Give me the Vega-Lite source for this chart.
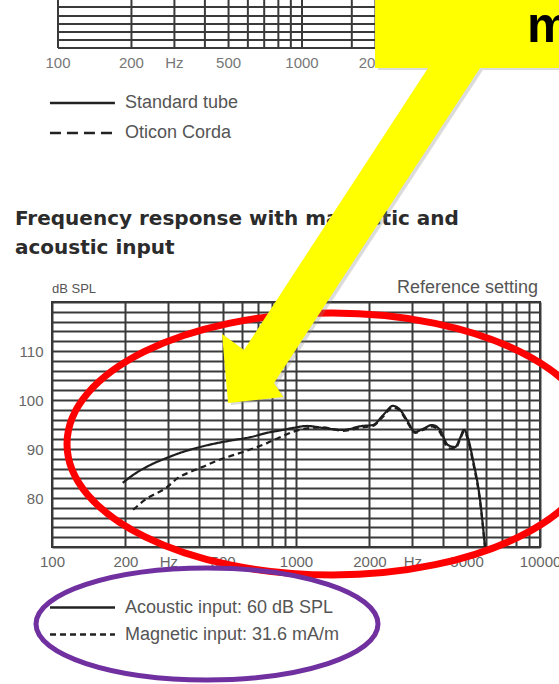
{
  "$schema": "https://vega.github.io/schema/vega-lite/v6.json",
  "width": 488,
  "height": 245,
  "autosize": {"type": "none"},
  "padding": {"left": 52, "top": 302, "right": 19, "bottom": 137},
  "background": "white",
  "config": {"view": {"stroke": "#333", "strokeWidth": 2}, "font": "Liberation Sans"},
  "data": {"values": [{}]},
  "datasets": {
    "response": [
      {"freq": 195, "spl": 83.1, "input": "Acoustic input: 60 dB SPL"},
      {"freq": 215, "spl": 84.7, "input": "Acoustic input: 60 dB SPL"},
      {"freq": 252, "spl": 86.7, "input": "Acoustic input: 60 dB SPL"},
      {"freq": 296, "spl": 88.2, "input": "Acoustic input: 60 dB SPL"},
      {"freq": 344, "spl": 89.4, "input": "Acoustic input: 60 dB SPL"},
      {"freq": 404, "spl": 90.4, "input": "Acoustic input: 60 dB SPL"},
      {"freq": 474, "spl": 91.2, "input": "Acoustic input: 60 dB SPL"},
      {"freq": 552, "spl": 91.8, "input": "Acoustic input: 60 dB SPL"},
      {"freq": 648, "spl": 92.4, "input": "Acoustic input: 60 dB SPL"},
      {"freq": 761, "spl": 93.3, "input": "Acoustic input: 60 dB SPL"},
      {"freq": 885, "spl": 93.9, "input": "Acoustic input: 60 dB SPL"},
      {"freq": 972, "spl": 94.3, "input": "Acoustic input: 60 dB SPL"},
      {"freq": 1110, "spl": 94.7, "input": "Acoustic input: 60 dB SPL"},
      {"freq": 1291, "spl": 94.3, "input": "Acoustic input: 60 dB SPL"},
      {"freq": 1558, "spl": 93.9, "input": "Acoustic input: 60 dB SPL"},
      {"freq": 1865, "spl": 94.7, "input": "Acoustic input: 60 dB SPL"},
      {"freq": 2068, "spl": 94.9, "input": "Acoustic input: 60 dB SPL"},
      {"freq": 2273, "spl": 96.9, "input": "Acoustic input: 60 dB SPL"},
      {"freq": 2498, "spl": 98.8, "input": "Acoustic input: 60 dB SPL"},
      {"freq": 2669, "spl": 98.0, "input": "Acoustic input: 60 dB SPL"},
      {"freq": 2851, "spl": 95.9, "input": "Acoustic input: 60 dB SPL"},
      {"freq": 3074, "spl": 93.5, "input": "Acoustic input: 60 dB SPL"},
      {"freq": 3313, "spl": 94.1, "input": "Acoustic input: 60 dB SPL"},
      {"freq": 3610, "spl": 94.9, "input": "Acoustic input: 60 dB SPL"},
      {"freq": 3890, "spl": 93.9, "input": "Acoustic input: 60 dB SPL"},
      {"freq": 4198, "spl": 90.8, "input": "Acoustic input: 60 dB SPL"},
      {"freq": 4487, "spl": 90.4, "input": "Acoustic input: 60 dB SPL"},
      {"freq": 4700, "spl": 92.2, "input": "Acoustic input: 60 dB SPL"},
      {"freq": 4884, "spl": 93.9, "input": "Acoustic input: 60 dB SPL"},
      {"freq": 5070, "spl": 92.2, "input": "Acoustic input: 60 dB SPL"},
      {"freq": 5312, "spl": 87.8, "input": "Acoustic input: 60 dB SPL"},
      {"freq": 5680, "spl": 79.6, "input": "Acoustic input: 60 dB SPL"},
      {"freq": 5950, "spl": 70, "input": "Acoustic input: 60 dB SPL"},
      {"freq": 215, "spl": 77.6, "input": "Magnetic input: 31.6 mA/m"},
      {"freq": 240, "spl": 79.6, "input": "Magnetic input: 31.6 mA/m"},
      {"freq": 296, "spl": 82.2, "input": "Magnetic input: 31.6 mA/m"},
      {"freq": 328, "spl": 84.1, "input": "Magnetic input: 31.6 mA/m"},
      {"freq": 368, "spl": 85.3, "input": "Magnetic input: 31.6 mA/m"},
      {"freq": 412, "spl": 86.3, "input": "Magnetic input: 31.6 mA/m"},
      {"freq": 474, "spl": 87.6, "input": "Magnetic input: 31.6 mA/m"},
      {"freq": 527, "spl": 88.4, "input": "Magnetic input: 31.6 mA/m"},
      {"freq": 607, "spl": 89.4, "input": "Magnetic input: 31.6 mA/m"},
      {"freq": 692, "spl": 90.4, "input": "Magnetic input: 31.6 mA/m"},
      {"freq": 761, "spl": 91.2, "input": "Magnetic input: 31.6 mA/m"},
      {"freq": 860, "spl": 92.4, "input": "Magnetic input: 31.6 mA/m"},
      {"freq": 972, "spl": 93.5, "input": "Magnetic input: 31.6 mA/m"},
      {"freq": 1110, "spl": 94.2, "input": "Magnetic input: 31.6 mA/m"},
      {"freq": 1291, "spl": 94.4, "input": "Magnetic input: 31.6 mA/m"},
      {"freq": 1558, "spl": 93.7, "input": "Magnetic input: 31.6 mA/m"},
      {"freq": 1865, "spl": 94.4, "input": "Magnetic input: 31.6 mA/m"},
      {"freq": 2068, "spl": 94.7, "input": "Magnetic input: 31.6 mA/m"},
      {"freq": 2273, "spl": 96.6, "input": "Magnetic input: 31.6 mA/m"},
      {"freq": 2498, "spl": 98.5, "input": "Magnetic input: 31.6 mA/m"},
      {"freq": 2669, "spl": 97.8, "input": "Magnetic input: 31.6 mA/m"},
      {"freq": 2851, "spl": 95.6, "input": "Magnetic input: 31.6 mA/m"},
      {"freq": 3074, "spl": 93.3, "input": "Magnetic input: 31.6 mA/m"},
      {"freq": 3313, "spl": 93.9, "input": "Magnetic input: 31.6 mA/m"},
      {"freq": 3610, "spl": 94.6, "input": "Magnetic input: 31.6 mA/m"},
      {"freq": 3890, "spl": 93.4, "input": "Magnetic input: 31.6 mA/m"},
      {"freq": 4198, "spl": 90.2, "input": "Magnetic input: 31.6 mA/m"},
      {"freq": 4487, "spl": 90.0, "input": "Magnetic input: 31.6 mA/m"},
      {"freq": 4700, "spl": 91.9, "input": "Magnetic input: 31.6 mA/m"},
      {"freq": 4884, "spl": 93.6, "input": "Magnetic input: 31.6 mA/m"},
      {"freq": 5070, "spl": 91.8, "input": "Magnetic input: 31.6 mA/m"},
      {"freq": 5312, "spl": 87.3, "input": "Magnetic input: 31.6 mA/m"},
      {"freq": 5680, "spl": 79.3, "input": "Magnetic input: 31.6 mA/m"},
      {"freq": 5950, "spl": 70, "input": "Magnetic input: 31.6 mA/m"}
    ],
    "topGrid": [
      {"freq": 100}, {"freq": 200}, {"freq": 300}, {"freq": 400}, {"freq": 500},
      {"freq": 600}, {"freq": 700}, {"freq": 800}, {"freq": 900}, {"freq": 1000},
      {"freq": 1600}, {"freq": 2000}
    ],
    "topLevels": [
      {"level": 171.84}, {"level": 173.47}, {"level": 175.1},
      {"level": 176.73}, {"level": 178.37}, {"level": 180.2}
    ],
    "topTicks": [
      {"freq": 100, "label": "100"}, {"freq": 200, "label": "200"},
      {"freq": 300, "label": "Hz"}, {"freq": 500, "label": "500"},
      {"freq": 1000, "label": "1000"}, {"freq": 2000, "label": "2000"}
    ]
  },
  "layer": [
    {
      "data": {"name": "response"},
      "mark": {"type": "line", "interpolate": "monotone", "strokeWidth": 2.2, "color": "#1e1e1e"},
      "encoding": {
        "x": {
          "field": "freq", "type": "quantitative",
          "scale": {"type": "log", "domain": [100, 10000], "nice": false},
          "axis": {
            "title": null,
            "values": [100, 200, 300, 400, 500, 600, 700, 800, 900, 1000, 2000, 3000, 4000, 5000, 6000, 7000, 8000, 9000, 10000],
            "tickCount": 100,
            "format": "d",
            "labelExpr": "datum.value == 300 || datum.value == 3000 ? 'Hz' : (indexof([100, 200, 500, 1000, 2000, 5000, 10000], datum.value) >= 0 ? datum.label : '')",
            "grid": true, "gridColor": "#3a3a3a", "gridWidth": 2,
            "ticks": false, "domain": false,
            "labelFlush": false, "labelOverlap": false,
            "labelFont": "Liberation Sans", "labelFontSize": 15, "labelColor": "#666", "labelPadding": 7
          }
        },
        "y": {
          "field": "spl", "type": "quantitative",
          "scale": {"domain": [70, 120], "nice": false, "zero": false},
          "axis": {
            "title": null,
            "values": [70, 72, 74, 76, 78, 80, 82, 84, 86, 88, 90, 92, 94, 96, 98, 100, 102, 104, 106, 108, 110, 112, 114, 116, 118, 120],
            "tickCount": 100,
            "format": "d",
            "labelExpr": "datum.value % 10 == 0 && datum.value >= 80 && datum.value <= 110 ? datum.label : ''",
            "grid": true, "gridColor": "#3a3a3a", "gridWidth": 2,
            "ticks": false, "domain": false, "labelOverlap": false,
            "labelFont": "Liberation Sans", "labelFontSize": 15, "labelColor": "#666", "labelPadding": 9
          }
        },
        "strokeDash": {
          "field": "input", "type": "nominal",
          "scale": {"domain": ["Acoustic input: 60 dB SPL", "Magnetic input: 31.6 mA/m"], "range": [[1, 0], [6, 4]]},
          "legend": {
            "title": null, "orient": "none", "legendX": 18, "legendY": 293,
            "symbolType": "M -3 0 L 3 0", "symbolSize": 469, "symbolStrokeWidth": 2.5, "symbolStrokeColor": "#222",
            "labelFont": "Liberation Sans", "labelFontSize": 18, "labelColor": "#555", "labelOffset": 30, "labelLimit": 400, "rowPadding": 5
          }
        }
      }
    },
    {
      "data": {"name": "topGrid"},
      "mark": {"type": "rule", "color": "#3a3a3a", "strokeWidth": 2, "xOffset": 6},
      "encoding": {
        "x": {"field": "freq", "type": "quantitative"},
        "y": {"datum": 171.84},
        "y2": {"datum": 184}
      }
    },
    {
      "data": {"name": "topLevels"},
      "mark": {"type": "rule", "color": "#3a3a3a", "strokeWidth": 2, "xOffset": 6, "x2Offset": 6},
      "encoding": {
        "y": {"field": "level", "type": "quantitative"},
        "x": {"datum": 100},
        "x2": {"datum": 9000}
      }
    },
    {
      "data": {"name": "topTicks"},
      "mark": {"type": "text", "xOffset": 6, "font": "Liberation Sans", "fontSize": 15, "color": "#777", "baseline": "middle"},
      "encoding": {
        "x": {"field": "freq", "type": "quantitative"},
        "y": {"datum": 168.8},
        "text": {"field": "label"}
      }
    },
    {
      "mark": {"type": "rule", "color": "#222", "strokeWidth": 2.5},
      "encoding": {"x": {"datum": 98.1}, "x2": {"datum": 181.1}, "y": {"datum": 160.61}}
    },
    {
      "mark": {"type": "rule", "color": "#222", "strokeWidth": 2.5, "strokeDash": [11, 6]},
      "encoding": {"x": {"datum": 98.1}, "x2": {"datum": 181.1}, "y": {"datum": 154.49}}
    },
    {
      "mark": {"type": "text", "align": "left", "baseline": "middle", "font": "Liberation Sans", "fontSize": 18, "color": "#555"},
      "encoding": {"x": {"datum": 199.2}, "y": {"datum": 160.61}, "text": {"value": "Standard tube"}}
    },
    {
      "mark": {"type": "text", "align": "left", "baseline": "middle", "font": "Liberation Sans", "fontSize": 18, "color": "#555"},
      "encoding": {"x": {"datum": 199.2}, "y": {"datum": 154.49}, "text": {"value": "Oticon Corda"}}
    },
    {
      "mark": {"type": "text", "align": "left", "baseline": "alphabetic", "font": "DejaVu Sans", "fontWeight": "bold", "fontSize": 20, "color": "#2b2b2b", "lineHeight": 29},
      "encoding": {"x": {"datum": 70.5}, "y": {"datum": 135.71}, "text": {"value": ["Frequency response with magnetic and", "acoustic input"]}}
    },
    {
      "mark": {"type": "text", "align": "left", "baseline": "middle", "font": "Liberation Sans", "fontSize": 13, "color": "#555"},
      "encoding": {"x": {"datum": 100}, "y": {"datum": 122.65}, "text": {"value": "dB SPL"}}
    },
    {
      "mark": {"type": "text", "align": "right", "baseline": "middle", "font": "Liberation Sans", "fontSize": 18, "color": "#555"},
      "encoding": {"x": {"datum": 9813}, "y": {"datum": 122.86}, "text": {"value": "Reference setting"}}
    },
    {
      "mark": {"type": "point", "shape": "M 1 0 C 1 0.273 0.5523 0.4943 0 0.4943 C -0.5523 0.4943 -1 0.273 -1 0 C -1 -0.273 -0.5523 -0.4943 0 -0.4943 C 0.5523 -0.4943 1 -0.273 1 0 Z", "size": 280900, "filled": false, "stroke": "#ff0000", "strokeWidth": 7, "opacity": 1},
      "encoding": {"x": {"datum": 1404.7}, "y": {"datum": 91.02}}
    },
    {
      "mark": {"type": "point", "shape": "M 1 0 C 1 0.1809 0.5523 0.3275 0 0.3275 C -0.5523 0.3275 -1 0.1809 -1 0 C -1 -0.1809 -0.5523 -0.3275 0 -0.3275 C 0.5523 -0.3275 1 -0.1809 1 0 Z", "size": 116964, "filled": false, "stroke": "#7030a0", "strokeWidth": 5, "opacity": 1},
      "encoding": {"x": {"datum": 431.8}, "y": {"datum": 54.29}}
    },
    {
      "mark": {"type": "point", "shape": "M 1.47 -4.1 L 3.5 -4.1 L 3.5 -3.34 L 2.52 -3.34 L 0.46 -0.19 L 0.55 -0.05 L 0 0.01 L -0.06 -0.68 L 0.16 -0.52 L 2.0 -3.34 L 1.47 -3.34 Z", "size": 40000, "filled": true, "fill": "#888888", "strokeWidth": 0, "opacity": 0.3, "xOffset": 3, "yOffset": 2},
      "encoding": {"x": {"datum": 526.6}, "y": {"datum": 99.59}}
    },
    {
      "mark": {"type": "point", "shape": "M 1.47 -4.1 L 3.5 -4.1 L 3.5 -3.34 L 2.52 -3.34 L 0.46 -0.19 L 0.55 -0.05 L 0 0.01 L -0.06 -0.68 L 0.16 -0.52 L 2.0 -3.34 L 1.47 -3.34 Z", "size": 40000, "filled": true, "fill": "#ffff00", "color": "#ffff00", "strokeWidth": 0, "opacity": 1},
      "encoding": {"x": {"datum": 526.6}, "y": {"datum": 99.59}}
    },
    {
      "mark": {"type": "text", "align": "left", "baseline": "alphabetic", "font": "Liberation Sans", "fontWeight": "bold", "fontSize": 50, "color": "#000"},
      "encoding": {"x": {"datum": 8845}, "y": {"datum": 173.06}, "text": {"value": "m"}}
    }
  ]
}
